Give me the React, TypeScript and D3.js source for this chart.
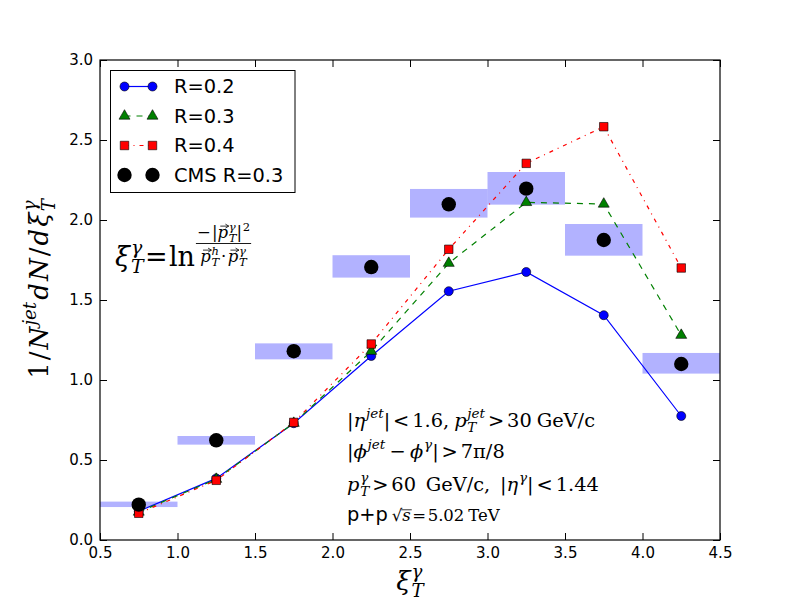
import React, { useEffect, useRef } from "react";
import * as d3 from "d3";

// bin centres in xi_T^gamma
const xCenters = [0.75, 1.25, 1.75, 2.25, 2.75, 3.25, 3.75, 4.25];
const binHalf = 0.25;

// model curves
const r02 = [0.18, 0.385, 0.73, 1.15, 1.555, 1.675, 1.405, 0.775];
const r03 = [0.175, 0.38, 0.73, 1.18, 1.73, 2.11, 2.1, 1.28];
const r04 = [0.167, 0.373, 0.735, 1.225, 1.817, 2.354, 2.583, 1.7];

// CMS data with systematic band
const cms = [0.221, 0.623, 1.18, 1.706, 2.098, 2.196, 1.875, 1.1];
const cmsLow = [0.206, 0.596, 1.129, 1.64, 2.015, 2.096, 1.777, 1.04];
const cmsHigh = [0.24, 0.65, 1.229, 1.78, 2.194, 2.3, 1.975, 1.169];

const xTicks = [0.5, 1.0, 1.5, 2.0, 2.5, 3.0, 3.5, 4.0, 4.5];
const yTicks = [0, 0.5, 1.0, 1.5, 2.0, 2.5, 3.0];
const legendLabels = ["R=0.2", "R=0.3", "R=0.4", "CMS R=0.3"];

const SANS = "DejaVu Sans, sans-serif";
const SERIF = "DejaVu Serif, serif";

type Piece = {
  s: string;
  it?: boolean;
  sans?: boolean;
  pos?: "sup" | "sub";
  stack?: boolean;
  vec?: boolean;
  over?: boolean;
  gap?: number;
  sc?: number;
};

// lays out a little math string piece by piece, measuring each text
function drawMath(
  parent: d3.Selection<any, unknown, null, undefined>,
  x: number,
  y: number,
  pieces: Piece[],
  size: number,
  anchor: "start" | "middle" = "start",
  track = 0
) {
  const g = parent.append("g");
  let cx = 0;
  let scriptX = 0;
  pieces.forEach((p, i) => {
    const fs = p.pos ? size * 0.7 : size * (p.sc ?? 1);
    const dy = p.pos === "sup" ? -size * 0.45 : p.pos === "sub" ? size * 0.25 : 0;
    let px = cx + ((p.gap ?? 0) + (i > 0 && !p.pos ? track : 0)) * size;
    if (p.stack) px = scriptX;
    else if (p.pos) {
      px += size * 0.04;
      scriptX = px;
    }
    const t = g
      .append("text")
      .attr("x", px)
      .attr("y", dy)
      .attr("font-size", fs)
      .attr("font-family", p.sans ? SANS : SERIF)
      .attr("font-style", p.it ? "italic" : "normal")
      .attr("fill", "#000")
      .text(p.s);
    const w = (t.node() as SVGTextElement).getComputedTextLength();
    if (p.vec) {
      const ay = dy - fs * 0.72;
      const x0 = px + w * 0.25;
      const x1 = px + w * 1.05;
      g.append("path")
        .attr("d", `M${x0},${ay}L${x1},${ay}M${x1 - fs * 0.2},${ay - fs * 0.12}L${x1},${ay}L${x1 - fs * 0.2},${ay + fs * 0.12}`)
        .attr("stroke", "#000")
        .attr("stroke-width", 0.8)
        .attr("fill", "none");
    }
    if (p.over) {
      const oy = dy - fs * 0.68;
      g.append("line")
        .attr("x1", px - 1)
        .attr("x2", px + w + 1)
        .attr("y1", oy)
        .attr("y2", oy)
        .attr("stroke", "#000")
        .attr("stroke-width", 0.8);
    }
    cx = Math.max(cx, px + w);
  });
  const ox = anchor === "middle" ? x - cx / 2 : x;
  g.attr("transform", `translate(${ox},${y})`);
  return { g, w: cx };
}

export default function App() {
  const ref = useRef<SVGSVGElement>(null);

  useEffect(() => {
    const svg = d3.select(ref.current);
    svg.selectAll("*").remove();

    const W = 800;
    const H = 600;
    const margin = { top: 60, right: 80, bottom: 60, left: 100 };

    const x = d3.scaleLinear().domain([0.5, 4.5]).range([margin.left, W - margin.right]);
    const y = d3.scaleLinear().domain([0, 3]).range([H - margin.bottom, margin.top]);

    svg.append("rect").attr("width", W).attr("height", H).attr("fill", "#fff");

    svg
      .append("defs")
      .append("clipPath")
      .attr("id", "plot-clip")
      .append("rect")
      .attr("x", margin.left)
      .attr("y", margin.top)
      .attr("width", W - margin.left - margin.right)
      .attr("height", H - margin.top - margin.bottom);

    const plot = svg.append("g").attr("clip-path", "url(#plot-clip)");

    // CMS systematic boxes
    plot
      .selectAll("rect.band")
      .data(xCenters.map((c, i) => ({ c, lo: cmsLow[i], hi: cmsHigh[i] })))
      .join("rect")
      .attr("class", "band")
      .attr("x", (d) => x(d.c - binHalf))
      .attr("width", (d) => x(d.c + binHalf) - x(d.c - binHalf))
      .attr("y", (d) => y(d.hi))
      .attr("height", (d) => y(d.lo) - y(d.hi))
      .attr("fill", "#0000ff")
      .attr("fill-opacity", 0.3);

    const line = d3
      .line<number>()
      .x((_, i) => x(xCenters[i]))
      .y((d) => y(d));

    const series = [
      { vals: r02, color: "#0000ff", dash: null as string | null, marker: "circle" },
      { vals: r03, color: "#008000", dash: "6,6", marker: "triangle" },
      { vals: r04, color: "#ff0000", dash: "4,5,1,5", marker: "square" },
    ];

    const markerPath = (m: string) =>
      m === "circle"
        ? d3.symbol(d3.symbolCircle, 64)()!
        : m === "triangle"
        ? d3.symbol(d3.symbolTriangle, 52)()!
        : d3.symbol(d3.symbolSquare, 72)()!;

    series.forEach((s) => {
      plot
        .append("path")
        .attr("d", line(s.vals)!)
        .attr("fill", "none")
        .attr("stroke", s.color)
        .attr("stroke-width", 1.2)
        .attr("stroke-dasharray", s.dash);
    });

    series.forEach((s) => {
      plot
        .append("g")
        .selectAll("path")
        .data(s.vals)
        .join("path")
        .attr("transform", (d, i) => `translate(${x(xCenters[i])},${y(d)})`)
        .attr("d", markerPath(s.marker))
        .attr("fill", s.color)
        .attr("stroke", "#000")
        .attr("stroke-width", 0.6);
    });

    plot
      .append("g")
      .selectAll("circle")
      .data(cms)
      .join("circle")
      .attr("cx", (_, i) => x(xCenters[i]))
      .attr("cy", (d) => y(d))
      .attr("r", 7.2)
      .attr("fill", "#000");

    // axes with inward ticks on all four sides
    const fmt = d3.format(".1f");
    const styleAxis = (g: d3.Selection<SVGGElement, unknown, null, undefined>) => {
      g.select(".domain").remove();
      g.selectAll(".tick line").attr("stroke", "#000").attr("stroke-width", 1);
      g.selectAll(".tick text").attr("font-family", SANS).attr("font-size", 15).attr("fill", "#000");
    };

    svg
      .append("g")
      .attr("transform", `translate(0,${y(0)})`)
      .call(d3.axisBottom(x).tickValues(xTicks).tickFormat((d) => fmt(+d)).tickSize(-7).tickPadding(7))
      .call(styleAxis);
    svg
      .append("g")
      .attr("transform", `translate(0,${y(3)})`)
      .call(d3.axisTop(x).tickValues(xTicks).tickFormat(() => "").tickSize(-7))
      .call(styleAxis);
    svg
      .append("g")
      .attr("transform", `translate(${x(0.5)},0)`)
      .call(d3.axisLeft(y).tickValues(yTicks).tickFormat((d) => fmt(+d)).tickSize(-7).tickPadding(7))
      .call(styleAxis);
    svg
      .append("g")
      .attr("transform", `translate(${x(4.5)},0)`)
      .call(d3.axisRight(y).tickValues(yTicks).tickFormat(() => "").tickSize(-7))
      .call(styleAxis);

    svg
      .append("rect")
      .attr("x", x(0.5))
      .attr("y", y(3))
      .attr("width", x(4.5) - x(0.5))
      .attr("height", y(0) - y(3))
      .attr("fill", "none")
      .attr("stroke", "#000")
      .attr("stroke-width", 1.2);

    // legend
    const leg = svg.append("g").attr("transform", "translate(110.5,70.5)");
    leg.append("rect").attr("width", 184.5).attr("height", 122).attr("fill", "#fff").attr("stroke", "#000").attr("stroke-width", 1);
    const rowY = (i: number) => 16 + i * 29.5;
    series.forEach((s, i) => {
      const ly = rowY(i);
      leg.append("line").attr("x1", 14).attr("x2", 42).attr("y1", ly).attr("y2", ly).attr("stroke", s.color).attr("stroke-width", 1.2).attr("stroke-dasharray", s.dash);
      [14, 42].forEach((mx) =>
        leg.append("path").attr("transform", `translate(${mx},${ly})`).attr("d", markerPath(s.marker)).attr("fill", s.color).attr("stroke", "#000").attr("stroke-width", 0.6)
      );
    });
    [14, 42].forEach((mx) => leg.append("circle").attr("cx", mx).attr("cy", rowY(3)).attr("r", 7.2).attr("fill", "#000"));
    legendLabels.forEach((t, i) => {
      leg
        .append("text")
        .attr("x", 63.5)
        .attr("y", rowY(i))
        .attr("dy", "0.36em")
        .attr("font-family", SANS)
        .attr("font-size", 19.4)
        .attr("fill", "#000")
        .text(t);
    });

    // axis labels
    drawMath(svg, 410, 590, [{ s: "ξ", it: true }, { s: "γ", it: true, pos: "sup" }, { s: "T", it: true, pos: "sub", stack: true }], 26, "middle");
    const ylab = svg.append("g").attr("transform", "translate(48,289) rotate(-90)");
    drawMath(
      ylab,
      0,
      0,
      [
        { s: "1" },
        { s: "/" },
        { s: "N", it: true },
        { s: "jet", it: true, pos: "sup" },
        { s: "d", it: true },
        { s: "N", it: true },
        { s: "/" },
        { s: "d", it: true },
        { s: "ξ", it: true },
        { s: "γ", it: true, pos: "sup" },
        { s: "T", it: true, pos: "sub", stack: true },
      ],
      26,
      "middle",
      0.08
    );

    // definition of xi
    const def = drawMath(
      svg,
      115,
      266,
      [
        { s: "ξ", it: true },
        { s: "γ", it: true, pos: "sup" },
        { s: "T", it: true, pos: "sub", stack: true },
        { s: "=", gap: 0.05 },
        { s: "ln", gap: 0.05 },
      ],
      27
    );
    const fx = 115 + def.w + 1;
    const num = drawMath(
      svg,
      0,
      0,
      [
        { s: "−" },
        { s: "|", gap: 0.08 },
        { s: "p", it: true, vec: true },
        { s: "γ", it: true, pos: "sup" },
        { s: "T", it: true, pos: "sub", stack: true },
        { s: "|" },
        { s: "2", pos: "sup" },
      ],
      16.5
    );
    const den = drawMath(
      svg,
      0,
      0,
      [
        { s: "p", it: true, vec: true },
        { s: "h", it: true, pos: "sup" },
        { s: "T", it: true, pos: "sub", stack: true },
        { s: "·", gap: 0.1 },
        { s: "p", it: true, vec: true, gap: 0.1 },
        { s: "γ", it: true, pos: "sup" },
        { s: "T", it: true, pos: "sub", stack: true },
      ],
      16.5
    );
    const fw = Math.max(num.w, den.w) + 2;
    num.g.attr("transform", `translate(${fx + (fw - num.w) / 2},238)`);
    den.g.attr("transform", `translate(${fx + (fw - den.w) / 2},262)`);
    svg.append("line").attr("x1", fx).attr("x2", fx + fw).attr("y1", 243.5).attr("y2", 243.5).attr("stroke", "#000").attr("stroke-width", 0.9);

    // cuts
    const TX = 347;
    const sz = 19.4;
    drawMath(
      svg,
      TX,
      427,
      [
        { s: "|" },
        { s: "η", it: true },
        { s: "jet", it: true, pos: "sup" },
        { s: "|" },
        { s: "<", gap: 0.15 },
        { s: "1.6,", gap: 0.15 },
        { s: "p", it: true, gap: 0.25 },
        { s: "jet", it: true, pos: "sup" },
        { s: "T", it: true, pos: "sub", stack: true },
        { s: ">", gap: 0.15 },
        { s: "30", gap: 0.15 },
        { s: "GeV/c", gap: 0.25 },
      ],
      sz
    );
    drawMath(
      svg,
      TX,
      458,
      [
        { s: "|" },
        { s: "ϕ", it: true },
        { s: "jet", it: true, pos: "sup" },
        { s: "−", gap: 0.22 },
        { s: "ϕ", it: true, gap: 0.22 },
        { s: "γ", it: true, pos: "sup" },
        { s: "|" },
        { s: ">", gap: 0.15 },
        { s: "7π/8", gap: 0.15 },
      ],
      sz
    );
    drawMath(
      svg,
      TX,
      491,
      [
        { s: "p", it: true },
        { s: "γ", it: true, pos: "sup" },
        { s: "T", it: true, pos: "sub", stack: true },
        { s: ">", gap: 0.15 },
        { s: "60", gap: 0.15 },
        { s: "GeV/c,", gap: 0.5 },
        { s: "|", gap: 0.5 },
        { s: "η", it: true },
        { s: "γ", it: true, pos: "sup" },
        { s: "|" },
        { s: "<", gap: 0.15 },
        { s: "1.44", gap: 0.15 },
      ],
      sz
    );
    drawMath(
      svg,
      TX,
      521,
      [
        { s: "p+p", sans: true },
        { s: "√", gap: 0.2, sc: 0.85 },
        { s: "s", it: true, over: true, sc: 0.85 },
        { s: "=", gap: 0.08, sc: 0.85 },
        { s: "5.02", gap: 0.08, sc: 0.85 },
        { s: "TeV", gap: 0.2, sc: 0.85 },
      ],
      sz
    );
  }, []);

  return (
    <svg
      ref={ref}
      width={800}
      height={600}
      style={{ position: "absolute", left: 0, top: 0, display: "block" }}
    ></svg>
  );
}
